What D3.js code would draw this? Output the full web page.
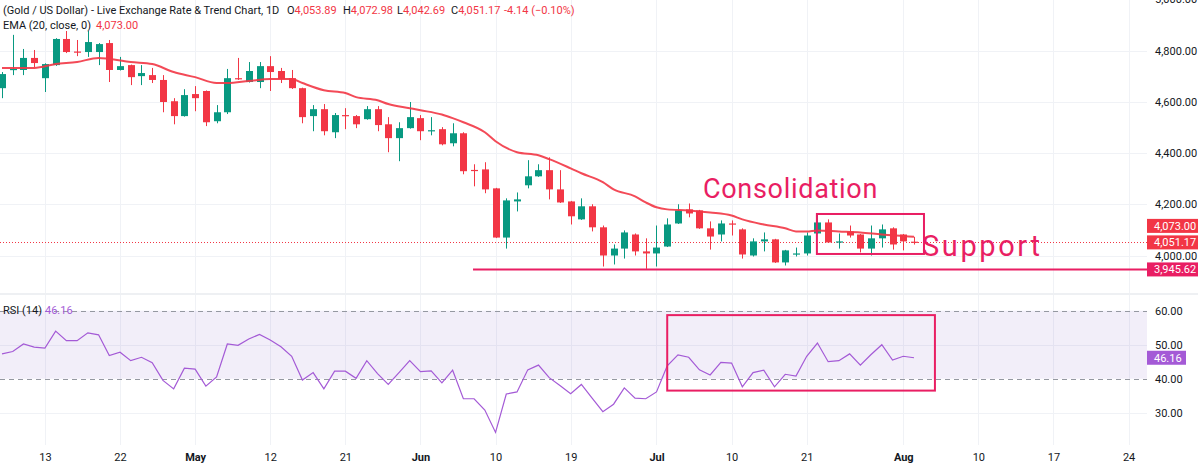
<!DOCTYPE html>
<html><head><meta charset="utf-8">
<script src="https://cdn.jsdelivr.net/npm/d3@7"></script>
<style>
html,body{margin:0;padding:0;background:#fff;overflow:hidden}
text{font-family:Roboto,"Noto Sans",sans-serif}
</style>
</head><body>
<svg id="c" width="1198" height="468"></svg>
<script>
// ---------- DATA ----------
const open = [4653,4724,4724,4771,4692,4743,4845,4796,4794,4794,
  4829,4724,4743,4700,4704,4685,4602,4544,4630,4642,
  4524,4559,4692,4677,4677,4739,4720,4692,4653,4544,
  4571,4481,4548,4544,4532,4571,4512,4458,4497,4536,
  4485,4493,4438,4477,4334,4336,4262,4070,4211,4274,
  4309,4333,4258,4211,4141,4192,4110,4000,4027,4082,
  4016,4008,4035,4125,4180,4176,4106,4082,4125,4102,
  4000,4055,4063,3973,4004,4008,4086,4129,4051,4094,
  4082,4027,4067,4106,4082,4053.89];
const high = [4716,4861,4806,4802,4750,4848,4876,4841,4876,4829,
  4841,4775,4745,4743,4732,4704,4614,4649,4661,4644,
  4587,4728,4771,4755,4755,4778,4732,4724,4655,4587,
  4591,4556,4575,4548,4583,4583,4540,4520,4599,4548,
  4540,4501,4516,4481,4356,4364,4264,4223,4246,4372,
  4356,4383,4333,4213,4223,4200,4117,4043,4098,4086,
  4067,4117,4145,4200,4203,4178,4133,4137,4137,4106,
  4067,4090,4065,4022,4031,4090,4164,4141,4086,4117,
  4084,4117,4121,4110,4084,4072.98];
const low = [4614,4704,4704,4735,4638,4740,4790,4778,4775,4743,
  4677,4722,4665,4665,4673,4559,4512,4542,4563,4505,
  4516,4552,4685,4675,4653,4642,4673,4650,4516,4485,
  4469,4458,4493,4497,4530,4485,4403,4368,4495,4450,
  4469,4430,4426,4317,4270,4243,4068,4027,4172,4262,
  4307,4219,4205,4121,4139,4094,3957,3965,3988,4000,
  3948,3957,4033,4123,4149,4104,4023,4055,4078,3988,
  3996,4016,3971,3961,3996,4000,4084,4049,4027,4070,
  4012,4000,4031,4023,4020,4042.69];
const close = [4708,4728,4771,4751,4747,4845,4794,4793,4833,4825,
  4724,4739,4696,4712,4685,4599,4544,4626,4614,4520,
  4559,4692,4689,4720,4739,4716,4689,4653,4540,4571,
  4485,4548,4544,4512,4571,4509,4458,4497,4540,4485,
  4489,4434,4477,4329,4332,4258,4070,4215,4219,4309,
  4333,4258,4207,4153,4192,4110,4000,4027,4090,4016,
  4008,4031,4121,4176,4164,4106,4074,4125,4121,4004,
  4055,4063,3973,4020,4008,4078,4129,4051,4055,4078,
  4027,4067,4102,4043,4055,4051.17];
const emaIdx = [0,3,5,7,9,10,12,14,16,18,20,21,23,25,27,28,30,32,33,35,36,38,39,41,42,43,45,46,48,50,51,53,54,56,57,59,60,61,62,64,66,68,69,71,73,74,75,76,78,80,82,84,85];
const emaVal = [4732,4732,4747,4755,4771,4767,4755,4747,4716,4696,4673,4673,4681,4689,4689,4673,4645,4634,4618,4606,4591,4575,4567,4550,4536,4520,4481,4446,4403,4391,4376,4340,4321,4286,4258,4231,4207,4188,4180,4176,4168,4156,4141,4121,4106,4094,4094,4098,4094,4090,4082,4076,4073];
const rsi = [47.3,48.0,50.2,49.3,49.0,54.0,51.2,51.2,53.5,52.9,
  46.8,47.8,45.3,46.3,44.7,39.5,37.0,43.1,42.8,37.8,
  40.5,50.2,49.8,51.7,53.0,51.4,49.4,46.6,39.6,41.8,
  37.0,42.2,42.2,40.1,45.3,41.5,38.3,41.8,45.3,42.1,
  42.3,38.8,42.5,34.1,34.1,30.8,24.2,35.5,36.1,42.6,
  44.0,40.3,38.0,35.6,38.3,34.3,30.3,32.5,37.3,34.3,
  34.1,36.1,43.8,47.0,46.3,42.6,41.1,44.8,44.6,37.6,
  41.8,42.5,37.6,41.3,40.8,46.6,50.5,45.0,45.3,47.3,
  44.0,47.1,50.0,45.5,46.6,46.16];
const xTickIdx = [4,11,18,25,32,39,46,53,61,68,75,84,91,98,105];
const xTickLabels = ["13","22","May","12","21","Jun","10","19","Jul","10","21","Aug","10","17","24"];
const priceTicks = [4000,4200,4400,4600,4800,5000];
const rsiTicks = [30,40,50,60];
const lastClose = 4051.17, lastEma = 4073.00, lastRsi = 46.16;
const changeText = "-4.14 (\u22120.10%)";
const supportLevel = 3945.62;
const supportStartIdx = 43.9;
const consolIdx = [75.95, 85.93];
const consolPrice = [4006, 4162];
const rsiBoxIdx = [62.0, 86.95];
const rsiBoxVal = [36.5, 58.7];

// ---------- LAYOUT ----------
const W = 1198, H = 468, plotR = 1147, pricePaneB = 293;
const UP = "#089981", DN = "#f23645", ANN = "#e91e63", PURP = "#a45ad6";
const svg = d3.select("#c");
svg.append("rect").attr("width", W).attr("height", H).attr("fill", "#fff");

const x = d3.scaleLinear().domain([0, 85]).range([2, 914]);
const y = d3.scaleLinear().domain([4000, 4800]).range([255.5, 50.5]);
const yr = d3.scaleLinear().domain([30, 60]).range([412.7, 310.7]);
const px = v => Math.round(v) + 0.5;

// vertical grid
svg.append("g").selectAll("line").data(xTickIdx).join("line")
  .attr("x1", d => px(x(d))).attr("x2", d => px(x(d)))
  .attr("y1", 0).attr("y2", 445).attr("stroke", "#f0f2f6");
// price grid
svg.append("g").selectAll("line").data(priceTicks).join("line")
  .attr("x1", 0).attr("x2", plotR).attr("y1", d => px(y(d))).attr("y2", d => px(y(d)))
  .attr("stroke", "#f0f2f6");
// rsi grid (50, 30)
svg.append("g").selectAll("line").data([30, 50]).join("line")
  .attr("x1", 0).attr("x2", plotR).attr("y1", d => px(yr(d))).attr("y2", d => px(yr(d)))
  .attr("stroke", "#f0f2f6");

// pane separator
svg.append("rect").attr("x", 0).attr("y", pricePaneB).attr("width", W).attr("height", 2).attr("fill", "#eef0f3");

// ---------- PRICE PANE ----------
svg.append("clipPath").attr("id", "pclip").append("rect").attr("x", 0).attr("y", 0).attr("width", plotR).attr("height", pricePaneB);
const pg = svg.append("g").attr("clip-path", "url(#pclip)");

// last price dotted line
pg.append("line").attr("x1", 0).attr("x2", plotR).attr("y1", px(y(lastClose))).attr("y2", px(y(lastClose)))
  .attr("stroke", DN).attr("stroke-dasharray", "1,2").attr("stroke-width", 1);

const idx = d3.range(open.length);
const col = i => close[i] >= open[i] ? UP : DN;
pg.append("g").selectAll("line").data(idx).join("line")
  .attr("x1", i => px(x(i))).attr("x2", i => px(x(i)))
  .attr("y1", i => y(high[i])).attr("y2", i => y(low[i]))
  .attr("stroke", col).attr("stroke-width", 1);
pg.append("g").selectAll("rect").data(idx).join("rect")
  .attr("x", i => Math.round(x(i)) - 3).attr("width", 7)
  .attr("y", i => y(Math.max(open[i], close[i])))
  .attr("height", i => Math.max(1.2, Math.abs(y(open[i]) - y(close[i]))))
  .attr("fill", col);

// EMA
const emaLine = d3.line().x(d => x(d[0])).y(d => y(d[1])).curve(d3.curveMonotoneX);
pg.append("path").datum(emaIdx.map((d, k) => [d, emaVal[k]]))
  .attr("d", emaLine).attr("fill", "none").attr("stroke", DN).attr("stroke-width", 2).attr("stroke-opacity", 0.9);

// support line
pg.append("line").attr("x1", x(supportStartIdx)).attr("x2", plotR)
  .attr("y1", y(supportLevel)).attr("y2", y(supportLevel)).attr("stroke", ANN).attr("stroke-width", 2);

// consolidation box
pg.append("rect").attr("x", x(consolIdx[0])).attr("width", x(consolIdx[1]) - x(consolIdx[0]))
  .attr("y", y(consolPrice[1])).attr("height", y(consolPrice[0]) - y(consolPrice[1]))
  .attr("fill", "none").attr("stroke", ANN).attr("stroke-width", 2);

svg.append("text").attr("x", 703).attr("y", 198).attr("fill", ANN).attr("font-size", 27)
  .attr("letter-spacing", 0.7).text("Consolidation");
svg.append("text").attr("x", 922).attr("y", 256).attr("fill", ANN).attr("font-size", 29)
  .attr("letter-spacing", 2.6).text("Support");

// ---------- RSI PANE ----------
svg.append("rect").attr("x", 0).attr("width", plotR).attr("y", yr(60)).attr("height", yr(40) - yr(60))
  .attr("fill", "#7e57c2").attr("fill-opacity", 0.1);
svg.append("g").selectAll("line").data([40, 60]).join("line")
  .attr("x1", 0).attr("x2", plotR).attr("y1", d => px(yr(d))).attr("y2", d => px(yr(d)))
  .attr("stroke", "#9598a1").attr("stroke-dasharray", "5,4").attr("stroke-width", 1);
svg.append("path").datum(rsi).attr("fill", "none").attr("stroke", PURP).attr("stroke-width", 1.2)
  .attr("d", d3.line().x((d, i) => x(i)).y(d => yr(d)));
svg.append("rect").attr("x", x(rsiBoxIdx[0])).attr("width", x(rsiBoxIdx[1]) - x(rsiBoxIdx[0]))
  .attr("y", yr(rsiBoxVal[1])).attr("height", yr(rsiBoxVal[0]) - yr(rsiBoxVal[1]))
  .attr("fill", "none").attr("stroke", ANN).attr("stroke-width", 2);

// ---------- AXES ----------
const fmt = d3.format(",.2f");
const AX_FS = 11;
const pAxis = svg.append("g").attr("transform", `translate(${plotR},0)`)
  .call(d3.axisRight(y).tickValues(priceTicks).tickFormat(fmt).tickSize(0).tickPadding(8));
const rAxis = svg.append("g").attr("transform", `translate(${plotR},0)`)
  .call(d3.axisRight(yr).tickValues(rsiTicks).tickFormat(fmt).tickSize(0).tickPadding(8));
const xAxis = svg.append("g").attr("transform", `translate(0,447)`)
  .call(d3.axisBottom(x).tickValues(xTickIdx).tickFormat((d, i) => xTickLabels[i]).tickSize(0).tickPadding(6));
[pAxis, rAxis, xAxis].forEach(a => {
  a.select(".domain").remove();
  a.selectAll("text").attr("font-size", AX_FS).attr("fill", "#131722").attr("font-family", 'Roboto,"Noto Sans",sans-serif');
});
xAxis.selectAll("text").attr("font-weight", (d, i) => /[A-Za-z]/.test(xTickLabels[i]) ? 700 : 400);

// price labels on axis
function axisTag(yc, txt, bg, w) {
  const g = svg.append("g");
  g.append("rect").attr("x", plotR).attr("y", yc - 7).attr("width", w).attr("height", 14).attr("fill", bg);
  g.append("text").attr("x", plotR + 7).attr("y", yc).attr("dy", "0.35em").attr("fill", "#fff")
    .attr("font-size", AX_FS).text(txt);
}
const yLast = y(lastClose);
axisTag(Math.min(y(lastEma), yLast - 16.5), fmt(lastEma), DN, W - plotR);
axisTag(yLast, fmt(lastClose), DN, W - plotR);
axisTag(y(supportLevel), fmt(supportLevel), ANN, W - plotR);
axisTag(yr(lastRsi), fmt(lastRsi), PURP, 39);

// ---------- LEGENDS ----------
const LG_FS = 11;
const t1 = svg.append("text").attr("y", 14).attr("font-size", LG_FS).attr("fill", "#131722");
t1.append("tspan").attr("x", 3).text("(Gold / US Dollar) - Live Exchange Rate & Trend Chart, 1D");
const n = open.length - 1;
const ohlc = [["O", open[n], 287], ["H", high[n], 343], ["L", low[n], 397], ["C", close[n], 451]];
ohlc.forEach(([k, v, xx]) => {
  t1.append("tspan").attr("x", xx).attr("fill", "#131722").text(k);
  t1.append("tspan").attr("fill", DN).text(fmt(v));
});
t1.append("tspan").attr("x", 504).attr("fill", DN).text(changeText);

const t2 = svg.append("text").attr("y", 29).attr("font-size", LG_FS).attr("fill", "#131722");
t2.append("tspan").attr("x", 3).text("EMA (20, close, 0)");
t2.append("tspan").attr("x", 96).attr("fill", DN).text(fmt(lastEma));

const t3 = svg.append("text").attr("y", 314).attr("font-size", LG_FS).attr("fill", "#131722");
t3.append("tspan").attr("x", 3).text("RSI (14)");
t3.append("tspan").attr("x", 45).attr("fill", PURP).text(fmt(lastRsi));
</script>
</body></html>
